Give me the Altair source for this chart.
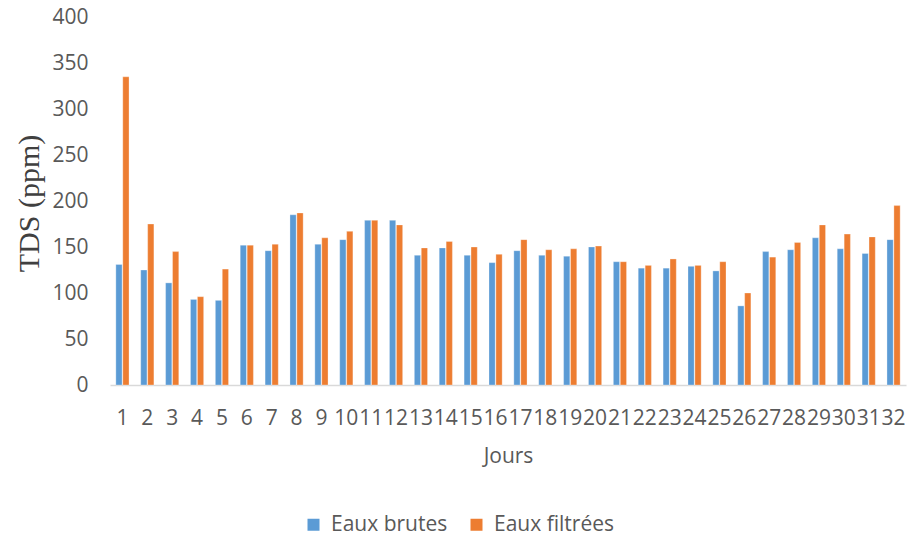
import altair as alt
import pandas as pd

days = list(range(1, 33))
eaux_brutes = [131, 125, 111, 93, 92, 152, 146, 185, 153, 158,
               179, 179, 141, 149, 141, 133, 146, 141, 140, 150,
               134, 127, 127, 129, 124, 86, 145, 147, 160, 148,
               143, 158]
eaux_filtrees = [335, 175, 145, 96, 126, 152, 153, 187, 160, 167,
                 179, 174, 149, 156, 150, 142, 158, 147, 148, 151,
                 134, 130, 137, 130, 134, 100, 139, 155, 174, 164,
                 161, 195]
series = ["Eaux brutes", "Eaux filtrées"]
colors = ["#5B9BD5", "#ED7D31"]

rows = []
for d, b, f in zip(days, eaux_brutes, eaux_filtrees):
    rows.append({"Jour": str(d), "Série": series[0], "TDS": b})
    rows.append({"Jour": str(d), "Série": series[1], "TDS": f})
df = pd.DataFrame(rows)

text_color = "#595959"
sans = "Open Sans"

chart = (
    alt.Chart(df)
    .mark_bar(stroke="white", strokeWidth=0.5, strokeOpacity=0.6)
    .encode(
        x=alt.X(
            "Jour:N",
            sort=[str(d) for d in days],
            scale=alt.Scale(paddingInner=0.47, paddingOuter=0.235),
            axis=alt.Axis(
                title="Jours",
                labelAngle=0,
                labelOverlap=False,
                ticks=False,
                labelPadding=22,
                titlePadding=17,
                domainColor="#D9D9D9",
                domainWidth=1.5,
            ),
        ),
        xOffset=alt.XOffset("Série:N", sort=series,
                            scale=alt.Scale(paddingInner=0.1)),
        y=alt.Y(
            "TDS:Q",
            scale=alt.Scale(domain=[0, 400]),
            axis=alt.Axis(
                title="TDS (ppm)",
                values=list(range(0, 401, 50)),
                grid=False,
                domain=False,
                ticks=False,
                labelPadding=22,
                titleFont="Liberation Serif",
                titleFontSize=30,
                titleFontWeight="normal",
                titleColor="#404040",
                titleAngle=-90,
                titleX=-81,
                titleY=186,
                titleAlign="center",
                titleBaseline="middle",
            ),
        ),
        color=alt.Color(
            "Série:N",
            sort=series,
            scale=alt.Scale(domain=series, range=colors),
            legend=alt.Legend(
                title=None,
                orient="none",
                direction="horizontal",
                legendX=193,
                legendY=497,
                symbolType="square",
                symbolSize=144,
                symbolStrokeWidth=0,
                labelOffset=7,
                labelLimit=0,
                columnPadding=18,
                padding=0,
            ),
        ),
    )
    .properties(
        width=796,
        height=368,
        padding={"left": 110, "top": 17, "right": 1, "bottom": 152},
        autosize=alt.AutoSizeParams(type="none"),
        background="white",
    )
    .configure_view(stroke=None)
    .configure_axis(
        labelFont=sans,
        labelFontSize=21,
        labelColor=text_color,
        titleFont=sans,
        titleFontSize=21,
        titleFontWeight="normal",
        titleColor=text_color,
    )
    .configure_legend(
        labelFont=sans,
        labelFontSize=21,
        labelColor=text_color,
    )
)

chart.save("out.html", embed_options={"renderer": "svg", "actions": False})
